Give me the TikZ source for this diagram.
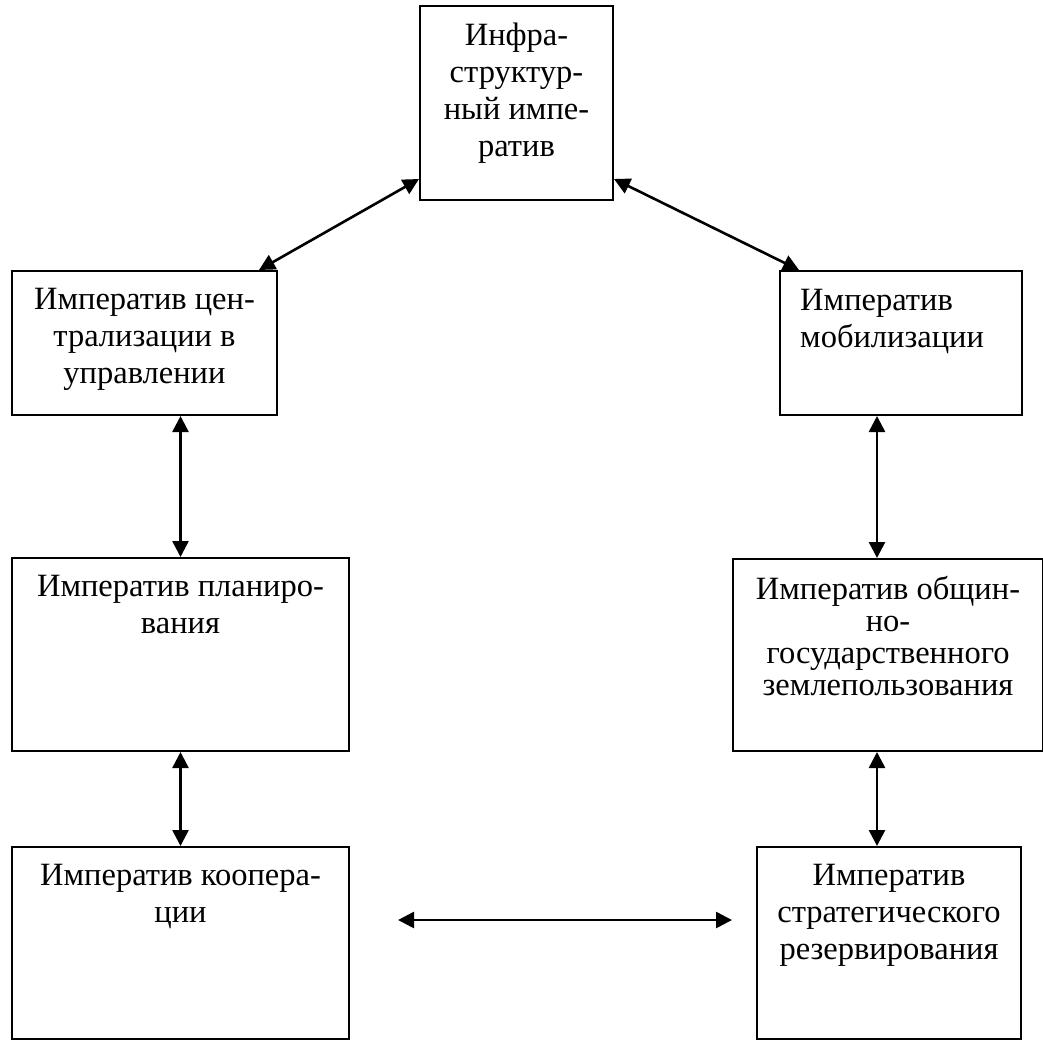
\documentclass[tikz,border=0pt]{standalone}
\usepackage{fontspec}
\setmainfont{Liberation Serif}
\usetikzlibrary{arrows.meta}
\begin{document}
\begin{tikzpicture}[x=1pt,y=-1pt,
  box/.style={draw, line width=2pt, rectangle, inner sep=0pt, anchor=north west},
  txt/.style={inner sep=0pt, align=center, anchor=north, font=\fontsize{32.5}{37}\selectfont},
  txtl/.style={inner sep=0pt, align=left, anchor=north west, font=\fontsize{32.5}{37}\selectfont},
  conn/.style={line width=2.6pt, {Triangle[length=16pt,width=16pt]}-{Triangle[length=16pt,width=16pt]}}]
\useasboundingbox (0,0) rectangle (1043,1039);
% boxes
\node[box, minimum width=193pt, minimum height=194pt] (top) at (419,5) {};
\node[box, minimum width=265pt, minimum height=144pt] (L1) at (11,270) {};
\node[box, minimum width=242pt, minimum height=144pt] (R1) at (779,270) {};
\node[box, minimum width=337pt, minimum height=193pt] (L2) at (11,557) {};
\node[box, minimum width=310pt, minimum height=192pt] (R2) at (732,558) {};
\node[box, minimum width=337pt, minimum height=192pt] (L3) at (11,846) {};
\node[box, minimum width=264pt, minimum height=192pt] (R3) at (756,846) {};
% texts
\node[txt] (topt) at ([yshift=-17.5pt]top.north) {Инфра-\\структур-\\ный импе-\\ратив};
\node[txt] (L1t) at ([yshift=-18.5pt]L1.north) {Императив цен-\\трализации в\\управлении};
\node[txtl] (R1t) at ([xshift=21pt,yshift=-19.5pt]R1.north west) {Императив\\мобилизации};
\node[txt] (L2t) at ([yshift=-18.5pt]L2.north) {Императив планиро-\\вания};
\node[txt, font=\fontsize{32.5}{31.7}\selectfont] (R2t) at ([yshift=-18.5pt]R2.north) {Императив общин-\\но-\\государственного\\землепользования};
\node[txt] (L3t) at ([yshift=-18.5pt]L3.north) {Императив коопера-\\ции};
\node[txt] (R3t) at ([yshift=-18.5pt]R3.north) {Императив\\стратегического\\резервирования};
% connectors
\draw[conn] ([yshift=22pt]top.south west) -- ([xshift=-19pt]L1.north east);
\draw[conn] ([yshift=22pt]top.south east) -- ([xshift=20pt]R1.north west);
\draw[conn] (L2.north |- L1.south) -- (L2.north);
\draw[conn] (L2.south) -- (L3.north);
\draw[conn] ([xshift=-11pt]R2.north |- R1.south) -- ([xshift=-11pt]R2.north);
\draw[conn] ([xshift=-11pt]R2.south) -- ([xshift=-12pt]R3.north);
\draw[conn] ([xshift=48pt,yshift=23pt]L3.east) -- ([xshift=-24pt,yshift=23pt]R3.west);
\end{tikzpicture}
\end{document}
